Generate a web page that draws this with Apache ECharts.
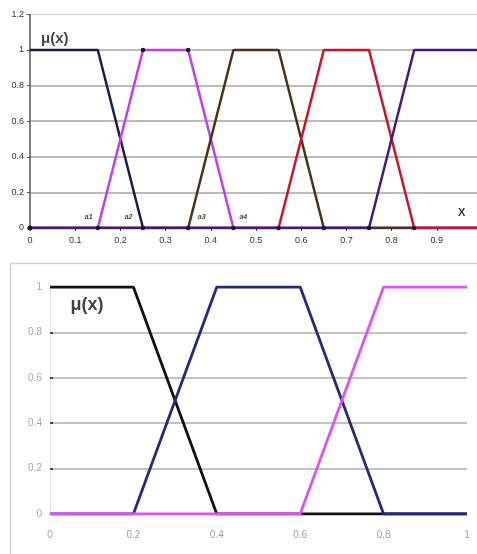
<!DOCTYPE html>
<html><head><meta charset="utf-8">
<script src="https://cdn.jsdelivr.net/npm/echarts@6/dist/echarts.min.js"></script>
<style>html,body{margin:0;padding:0;background:#fff}#c{width:477px;height:554px}</style>
</head><body><div id="c"></div>
<script>
// Top chart (5 trapezoidal membership functions)
const topS1 = [[0,1],[0.15,1],[0.25,0],[1,0]];
const topS2 = [[0,0],[0.15,0],[0.25,1],[0.35,1],[0.45,0],[1,0]];
const topS3 = [[0,0],[0.35,0],[0.45,1],[0.55,1],[0.65,0],[1,0]];
const topS4 = [[0,0],[0.55,0],[0.65,1],[0.75,1],[0.85,0],[1,0]];
const topS5 = [[0,0],[0.75,0],[0.85,1],[1,1]];
const topAnnotLabels = ['a1','a2','a3','a4'];
const topAnnotX = [0.13, 0.218, 0.38, 0.472];
const topAnnotY = [0.06, 0.06, 0.06, 0.06];
// Bottom chart (3 membership functions)
const botS1 = [[0,1],[0.2,1],[0.4,0],[1,0]];
const botS2 = [[0,0],[0.2,0],[0.4,1],[0.6,1],[0.8,0],[1,0]];
const botS3 = [[0,0],[0.6,0],[0.8,1],[1,1]];

const FONT = 'Liberation Sans';
const chart = echarts.init(document.getElementById('c'), null, {renderer:'canvas'});

function topLine(data, color, dotsAll){
  return {
    type:'line', xAxisIndex:0, yAxisIndex:0, data, color,
    lineStyle:{color, width:2.5}, symbol:'circle',
    symbolSize:(v)=> (dotsAll || v[1]===0) ? 4.5 : 0,
    itemStyle:{color:'#1a1a2a'}, animation:false, z:3
  };
}
function botLine(data, color){
  return {
    type:'line', xAxisIndex:1, yAxisIndex:1, data, color,
    lineStyle:{color, width:2.8}, symbol:'none', animation:false
  };
}

chart.setOption({
  backgroundColor:'#fff',
  animation:false,
  textStyle:{fontFamily:FONT},
  grid:[
    {left:30, top:14.4, width:452, height:213.6, outerBoundsMode:'none', containLabel:false},
    {left:50, top:287, width:417, height:227, outerBoundsMode:'none', containLabel:false}
  ],
  xAxis:[
    {type:'value', gridIndex:0, min:0, max:1, interval:0.1,
     axisLine:{show:true, lineStyle:{color:'#333', width:1.5}},
     axisTick:{show:true, length:3, lineStyle:{color:'#333'}},
     axisLabel:{color:'#333', fontSize:9, margin:8, fontFamily:FONT},
     splitLine:{show:false}},
    {type:'value', gridIndex:1, min:0, max:1, interval:0.2,
     axisLine:{show:false},
     axisTick:{show:false},
     axisLabel:{color:'#a0a0a0', fontSize:10, margin:16, fontFamily:FONT},
     splitLine:{show:false}}
  ],
  yAxis:[
    {type:'value', gridIndex:0, min:0, max:1.2, interval:0.2,
     axisLine:{show:true, lineStyle:{color:'#555', width:1.5}},
     axisTick:{show:true, length:3, lineStyle:{color:'#555'}},
     axisLabel:{color:'#333', fontSize:9, margin:6, fontFamily:FONT,
       formatter:(v)=>String(Math.round(v*10)/10)},
     splitLine:{show:true, showMaxLine:false, lineStyle:{color:'#a4a4a4', width:1.6}}},
    {type:'value', gridIndex:1, min:0, max:1, interval:0.2,
     axisLine:{show:true, lineStyle:{color:'#e2e2e2', width:1}},
     axisTick:{show:true, inside:true, length:3, lineStyle:{color:'#444', width:2}},
     axisLabel:{color:'#a8a8a8', fontSize:10, margin:8, fontFamily:FONT,
       formatter:(v)=>String(Math.round(v*10)/10)},
     splitLine:{show:true, showMaxLine:false, lineStyle:{color:'#a9b0aa', width:1.5}}},
    {type:'value', gridIndex:0, min:0, max:1.2, interval:1.2, position:'left',
     axisLine:{show:false}, axisTick:{show:false}, axisLabel:{show:false},
     splitLine:{show:true, showMinLine:false, lineStyle:{color:'#d0d0d0', width:1.2}}}
  ],
  graphic:[
    {type:'rect', shape:{x:10.5, y:263.5, width:480, height:300},
     style:{fill:'none', stroke:'#cfd3cf', lineWidth:1.5}, z:0}
  ],
  series:[
    topLine(topS1, '#1c1c44', false),
    topLine(topS2, '#c23cf0', true),
    topLine(topS3, '#4a3214', false),
    topLine(topS4, '#d2102c', false),
    topLine(topS5, '#3c1c80', false),
    {type:'scatter', xAxisIndex:0, yAxisIndex:0, symbolSize:0, animation:false,
     data: topAnnotLabels.map((t,i)=>({value:[topAnnotX[i], topAnnotY[i]], name:t})),
     label:{show:true, position:'inside', formatter:(p)=>p.name,
       fontSize:7, fontWeight:'bold', fontStyle:'italic', color:'#111', fontFamily:FONT}},
    {type:'scatter', xAxisIndex:0, yAxisIndex:0, symbolSize:0, animation:false,
     data:[{value:[0.955, 0.085], name:'X'}],
     label:{show:true, position:'inside', formatter:'X', fontSize:11, fontWeight:'bold', color:'#000', fontFamily:FONT}},
    {type:'scatter', xAxisIndex:0, yAxisIndex:0, symbolSize:0, animation:false,
     data:[{value:[0.055, 1.065], name:'μ(x)'}],
     label:{show:true, position:'inside', formatter:'μ(x)', fontSize:15, fontWeight:'bold', color:'#111', fontFamily:FONT}},
    botLine(botS1, '#111111'),
    botLine(botS2, '#28287c'),
    botLine(botS3, '#e050f2'),
    {type:'scatter', xAxisIndex:1, yAxisIndex:1, symbolSize:0, animation:false,
     data:[{value:[0.089, 0.92], name:'μ(x)'}],
     label:{show:true, position:'inside', formatter:'μ(x)', fontSize:18, fontWeight:'bold', color:'#111', fontFamily:FONT}}
  ]
});
</script></body></html>
